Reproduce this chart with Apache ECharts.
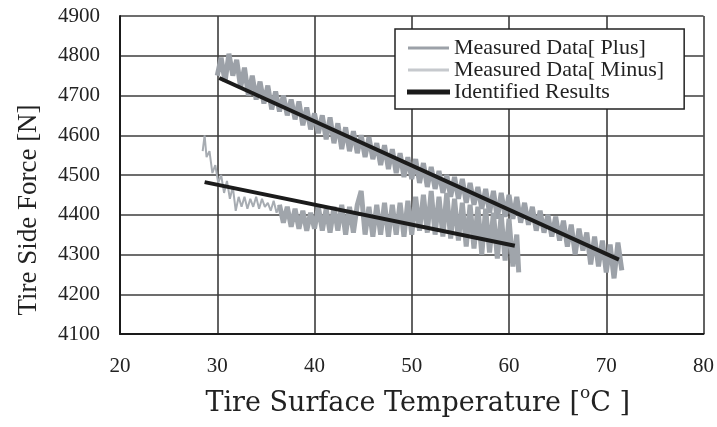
<!DOCTYPE html>
<html>
<head>
<meta charset="utf-8">
<script src="https://cdn.jsdelivr.net/npm/echarts@6/dist/echarts.min.js"></script>
<style>
  html, body { margin: 0; padding: 0; background: #fff; }
  #chart { width: 717px; height: 427px; }
</style>
</head>
<body>
<div id="chart"></div>
<script>
var plusTemp = [30.0, 30.4, 30.8, 31.2, 31.6, 32.0, 32.4, 32.8, 33.2, 33.6,
  34.0, 34.4, 34.8, 35.2, 35.6, 36.0, 36.4, 36.8, 37.2, 37.6,
  38.0, 38.4, 38.8, 39.2, 39.6, 40.0, 40.4, 40.8, 41.2, 41.6,
  42.0, 42.4, 42.8, 43.2, 43.6, 44.0, 44.4, 44.8, 45.2, 45.6,
  46.0, 46.4, 46.8, 47.2, 47.6, 48.0, 48.4, 48.8, 49.2, 49.6,
  50.0, 50.4, 50.8, 51.2, 51.6, 52.0, 52.4, 52.8, 53.2, 53.6,
  54.0, 54.4, 54.8, 55.2, 55.6, 56.0, 56.4, 56.8, 57.2, 57.6,
  58.0, 58.4, 58.8, 59.2, 59.6, 60.0, 60.4, 60.8, 61.2, 61.6,
  62.0, 62.4, 62.8, 63.2, 63.6, 64.0, 64.4, 64.8, 65.2, 65.6,
  66.0, 66.4, 66.8, 67.2, 67.6, 68.0, 68.4, 68.8, 69.2, 69.6,
  70.0, 70.4, 70.8, 71.2, 71.6];
var plusForce = [4750, 4795, 4735, 4805, 4750, 4790, 4720, 4770, 4700, 4750,
  4690, 4735, 4680, 4725, 4665, 4710, 4660, 4700, 4650, 4690,
  4640, 4685, 4625, 4670, 4615, 4655, 4605, 4650, 4590, 4645,
  4580, 4630, 4565, 4620, 4560, 4610, 4555, 4600, 4545, 4595,
  4540, 4580, 4525, 4575, 4515, 4565, 4505, 4555, 4495, 4545,
  4490, 4540, 4480, 4530, 4470, 4520, 4465, 4510, 4455, 4500,
  4445, 4495, 4440, 4490, 4430, 4480, 4425, 4470, 4415, 4465,
  4405, 4460, 4390, 4455, 4395, 4450, 4390, 4445, 4380, 4430,
  4375, 4420, 4360, 4410, 4355, 4400, 4345, 4395, 4335, 4385,
  4320, 4375, 4300, 4365, 4310, 4355, 4275, 4345, 4270, 4335,
  4255, 4325, 4240, 4330, 4260];

// measured data [Minus], thin start of the trace
var minusStartTemp = [28.5, 28.7, 28.9, 29.2, 29.5, 29.8, 30.1, 30.4, 30.7, 31.0,
  31.3, 31.6, 31.9, 32.2, 32.5, 32.8, 33.1, 33.4, 33.7, 34.0,
  34.3, 34.6, 34.9, 35.2, 35.5, 35.8, 36.1, 36.4];
var minusStartForce = [4560, 4600, 4545, 4560, 4505, 4525, 4480, 4500, 4455, 4485,
  4440, 4470, 4410, 4445, 4420, 4445, 4415, 4440, 4420, 4445,
  4415, 4440, 4420, 4430, 4410, 4435, 4405, 4425];

// measured data [Minus], dense part
var minusTemp = [36.4, 36.8, 37.2,
  37.6, 38.0, 38.4, 38.8, 39.2, 39.6, 40.0, 40.4, 40.8, 41.2,
  41.6, 42.0, 42.4, 42.8, 43.2, 43.6, 44.0, 44.4, 44.8, 45.2,
  45.6, 46.0, 46.4, 46.8, 47.2, 47.6, 48.0, 48.4, 48.8, 49.2,
  49.6, 50.0, 50.4, 50.8, 51.2, 51.6, 52.0, 52.4, 52.8, 53.2,
  53.6, 54.0, 54.4, 54.8, 55.2, 55.6, 56.0, 56.4, 56.8, 57.2,
  57.6, 58.0, 58.4, 58.8, 59.2, 59.6, 60.0, 60.4, 60.8, 61.0];
var minusForce = [4425, 4380, 4420,
  4370, 4415, 4365, 4410, 4360, 4405, 4365, 4420, 4360, 4415,
  4355, 4420, 4360, 4425, 4350, 4420, 4355, 4425, 4460, 4350,
  4420, 4345, 4425, 4350, 4430, 4345, 4425, 4350, 4430, 4345,
  4435, 4350, 4445, 4360, 4450, 4355, 4460, 4350, 4445, 4345,
  4455, 4340, 4440, 4335, 4430, 4320, 4425, 4315, 4420, 4300,
  4415, 4305, 4405, 4290, 4400, 4285, 4390, 4270, 4350, 4255];

// identified results (two fitted lines)
var fitPlusTemp = [30.2, 71.3];
var fitPlusForce = [4744, 4287];
var fitMinusTemp = [28.7, 60.6];
var fitMinusForce = [4482, 4322];

var serif = '"Liberation Serif", "Times New Roman", serif';
var wideSerif = '"DejaVu Serif", serif';

function pairs(xs, ys) {
  var out = [];
  for (var i = 0; i < xs.length; i++) {
    out.push([xs[i], ys[i]]);
  }
  return out;
}

var chart = echarts.init(document.getElementById('chart'));
var option = {
  animation: false,
  backgroundColor: '#fff',
  grid: {
    left: 120,
    right: 10,
    top: 16,
    bottom: 93
  },
  legend: {
    orient: 'vertical',
    left: 395,
    top: 29,
    padding: [8, 20, 6, 12],
    itemGap: 0,
    itemWidth: 41,
    itemHeight: 3,
    icon: 'rect',
    backgroundColor: '#fff',
    borderColor: '#222',
    borderWidth: 1.5,
    borderRadius: 0,
    textStyle: {
      fontFamily: serif,
      fontSize: 22,
      color: '#222',
      lineHeight: 20
    },
    data: [
      { name: 'Measured Data[ Plus]', itemStyle: { color: '#9ca1a8' } },
      { name: 'Measured Data[ Minus]', itemStyle: { color: '#c6c9cd' } },
      { name: 'Identified Results', itemStyle: { color: '#1b1b1b', borderColor: '#1b1b1b', borderWidth: 2 } }
    ]
  },
  xAxis: {
    type: 'value',
    min: 20,
    max: 80,
    interval: 10,
    name: '{m|Tire Surface Temperature [}{sup|o}{m|C ]}',
    nameLocation: 'middle',
    nameGap: 51,
    nameTextStyle: {
      padding: [0, 0, 0, 12],
      rich: {
        m: {
          fontFamily: wideSerif,
          fontSize: 27,
          color: '#222',
          lineHeight: 38
        },
        sup: {
          fontFamily: wideSerif,
          fontSize: 17,
          color: '#222',
          lineHeight: 16,
          verticalAlign: 'top'
        }
      }
    },
    axisLine: { show: true, onZero: false, lineStyle: { color: '#1a1a1a', width: 2 } },
    axisTick: { show: false },
    axisLabel: { fontFamily: serif, fontSize: 21, color: '#222', margin: 22 },
    splitLine: { show: true, lineStyle: { color: '#3c3c3c', width: 1.6 } }
  },
  yAxis: {
    type: 'value',
    min: 4100,
    max: 4900,
    interval: 100,
    name: 'Tire Side Force [N]',
    nameLocation: 'middle',
    nameGap: 78,
    nameTextStyle: { fontFamily: serif, fontSize: 27, color: '#222', padding: [0, 70, 0, 0] },
    axisLine: { show: true, lineStyle: { color: '#1a1a1a', width: 2 } },
    axisTick: { show: false },
    axisLabel: {
      fontFamily: serif, fontSize: 21, color: '#222', margin: 20,
      formatter: function (v) { return String(v); }
    },
    splitLine: { show: true, lineStyle: { color: '#3c3c3c', width: 1.6 } }
  },
  series: [
    {
      name: 'Measured Data[ Plus]',
      type: 'line',
      symbol: 'none',
      color: '#9ca1a8',
      lineStyle: { color: '#9ca1a8', width: 5 },
      data: pairs(plusTemp, plusForce)
    },
    {
      name: 'Measured Data[ Minus]',
      type: 'line',
      symbol: 'none',
      color: '#c6c9cd',
      lineStyle: { color: '#a7acb2', width: 2 },
      data: pairs(minusStartTemp, minusStartForce)
    },
    {
      name: 'Measured Data[ Minus]',
      type: 'line',
      symbol: 'none',
      color: '#c6c9cd',
      lineStyle: { color: '#a0a5ab', width: 5 },
      data: pairs(minusTemp, minusForce)
    },
    {
      name: 'Identified Results',
      type: 'line',
      symbol: 'none',
      color: '#1b1b1b',
      lineStyle: { color: '#1b1b1b', width: 4 },
      data: pairs(fitPlusTemp, fitPlusForce)
    },
    {
      name: 'Identified Results',
      type: 'line',
      symbol: 'none',
      color: '#1b1b1b',
      lineStyle: { color: '#1b1b1b', width: 4 },
      data: pairs(fitMinusTemp, fitMinusForce)
    }
  ]
};
chart.setOption(option);
</script>
</body>
</html>
